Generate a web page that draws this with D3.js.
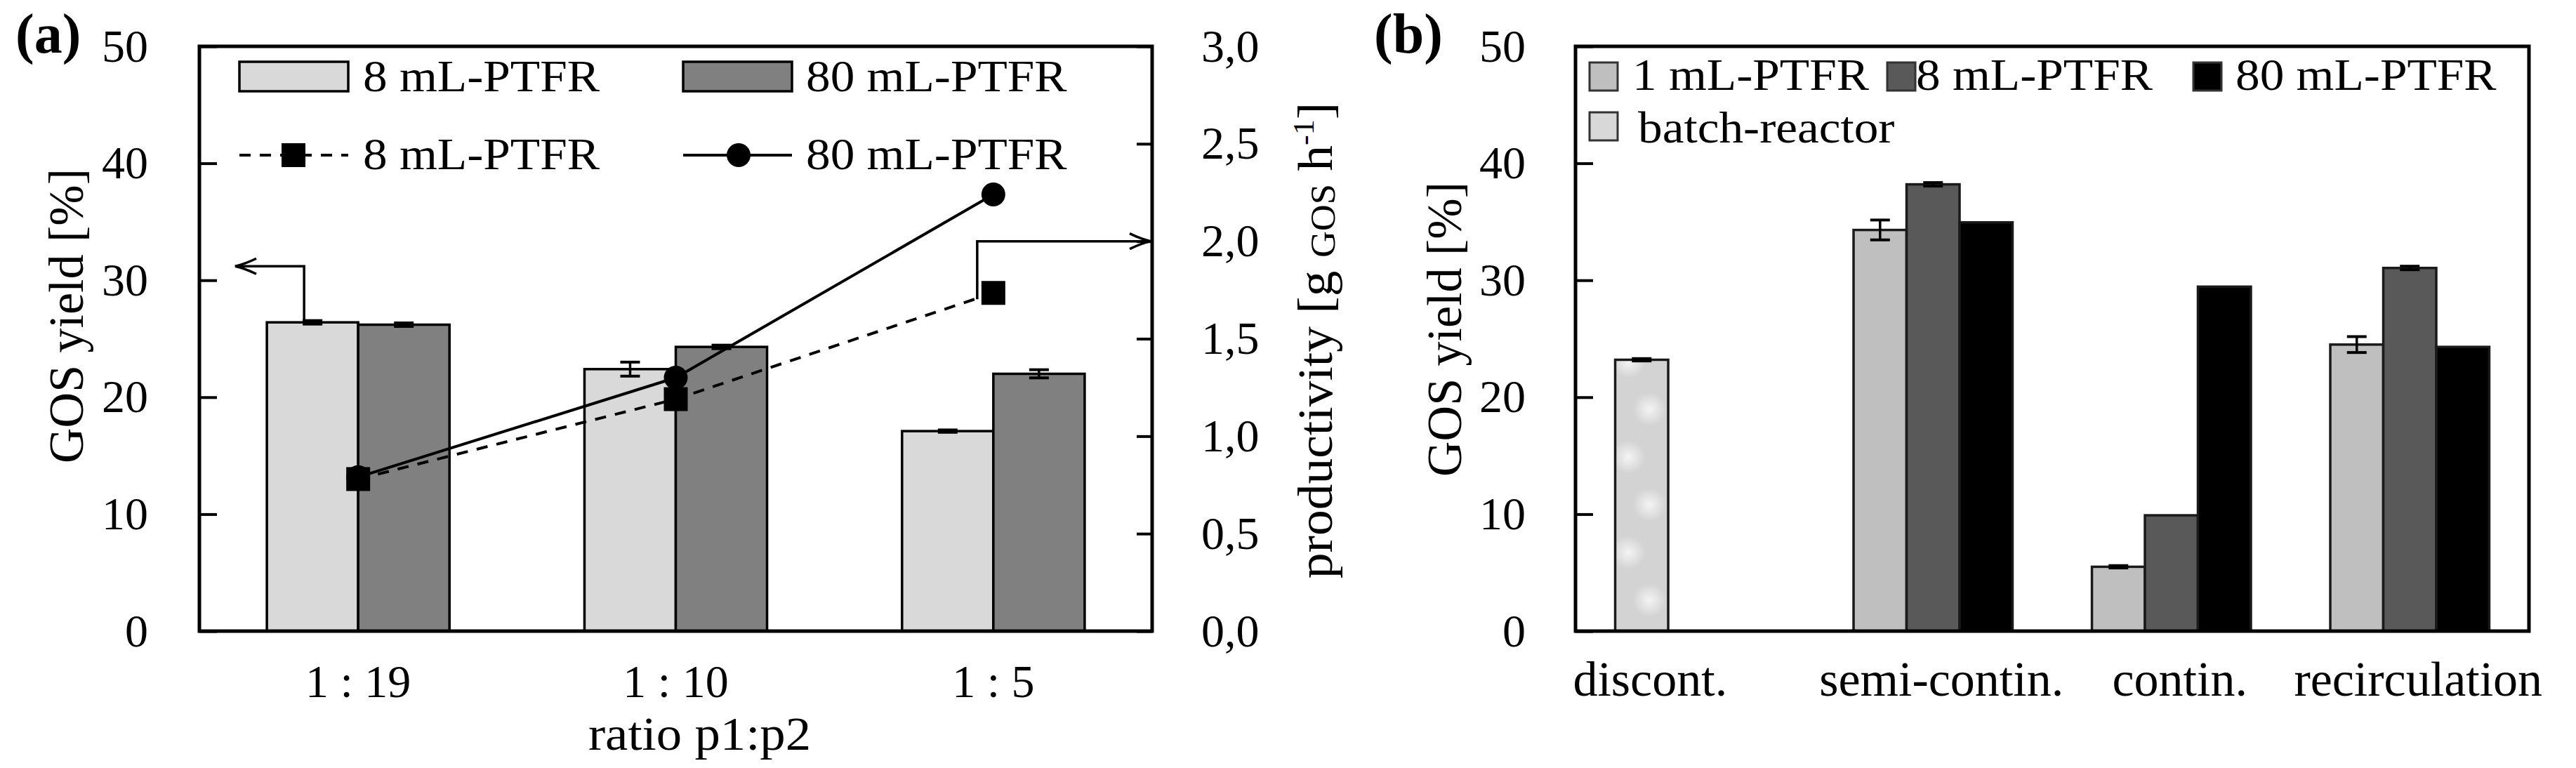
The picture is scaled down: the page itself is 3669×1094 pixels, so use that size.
<!DOCTYPE html>
<html>
<head>
<meta charset="utf-8">
<script src="https://cdn.jsdelivr.net/npm/d3@7"></script>
<style>
  html, body { margin: 0; padding: 0; background: #fff; }
</style>
</head>
<body>
<svg id="chart"></svg>
<script>
// ---- Data, panel (a) ----
var ratios = ["1 : 19", "1 : 10", "1 : 5"];
var seriesA = ["8 mL-PTFR", "80 mL-PTFR"];
var yield8 = [26.4, 22.4, 17.1];
var yield8Err = [0.15, 0.6, 0.1];
var yield80 = [26.2, 24.3, 22.0];
var yield80Err = [0.15, 0.15, 0.35];
var prod8 = [0.78, 1.19, 1.735];
var prod80 = [0.79, 1.30, 2.24];
var yieldTicks = [0, 10, 20, 30, 40, 50];
var prodTicks = [0, 0.5, 1.0, 1.5, 2.0, 2.5, 3.0];
// where the axis-pointer arrows turn
var arrowYield = 31.2;
var arrowProd = 2.0;

// ---- Data, panel (b) ----
var modes = ["discont.", "semi-contin.", "contin.", "recirculation"];
var seriesB = ["1 mL-PTFR", "8 mL-PTFR", "80 mL-PTFR"];
var batch = [23.2, null, null, null];
var batchErr = [0.1, null, null, null];
var ptfr1 = [null, 34.3, 5.5, 24.5];
var ptfr1Err = [null, 0.85, 0.1, 0.68];
var ptfr8 = [null, 38.2, 9.9, 31.05];
var ptfr8Err = [null, 0.15, 0, 0.15];
var ptfr80 = [null, 34.95, 29.45, 24.3];

// SVG size params
var width = 3669;
var height = 1094;
var FONT = '"Liberation Serif", "Times New Roman", serif';

var svg = d3.select("#chart")
    .attr("width", width)
    .attr("height", height)
    .attr("font-family", FONT);

var defs = svg.append("defs");

// Plot frames
var top0 = 66, bottom0 = 899;
var frameA = {x0: 284, x1: 1641};
var frameB = {x0: 2244, x1: 3602};

// Text helper: the figure's text is a bit wider than Times, so stretch it
function txt(parent, x, y, s, size, sx, anchor, rot) {
  return parent.append("text")
    .attr("transform", "translate(" + x + "," + y + ")" + (rot ? " rotate(-90)" : "") + " scale(" + sx + ",1)")
    .attr("font-size", size)
    .attr("text-anchor", anchor || "start")
    .attr("fill", "#000")
    .text(s);
}

// Comma decimal numbers for productivity axis
var deFormat = d3.formatLocale({decimal: ",", thousands: ".", grouping: [3], currency: ["", "€"]}).format(".1f");

function styleAxis(g, size) {
  g.attr("font-family", FONT).attr("font-size", size);
  g.select(".domain").remove();
  g.selectAll(".tick line").attr("stroke", "#000").attr("stroke-width", 4);
  g.selectAll(".tick text").attr("fill", "#000");
}

function errorBar(g, cx, y, err, scale) {
  if (err == null) return;
  var cap = 14;
  var yHi = scale(y + err), yLo = scale(y - err);
  g.append("line").attr("x1", cx).attr("x2", cx).attr("y1", yHi).attr("y2", yLo)
    .attr("stroke", "#000").attr("stroke-width", 3.5);
  [yHi, yLo].forEach(function(yy) {
    g.append("line").attr("x1", cx - cap).attr("x2", cx + cap).attr("y1", yy).attr("y2", yy)
      .attr("stroke", "#000").attr("stroke-width", 4);
  });
}

function arrowHead(g, tx, ty, dir) {
  // open barbed head, dir = -1 points left, +1 points right
  var b = 30 * -dir;
  g.append("path")
    .attr("d", "M" + (tx + b) + "," + (ty - 11) + " Q" + (tx + b * 0.45) + "," + (ty - 3) + " " + tx + "," + ty +
               " Q" + (tx + b * 0.45) + "," + (ty + 3) + " " + (tx + b) + "," + (ty + 11))
    .attr("fill", "none").attr("stroke", "#000").attr("stroke-width", 3.5);
}

// ===================== Panel (a) =====================
var gA = svg.append("g");

var xA = d3.scaleBand().domain(ratios)
    .range([frameA.x0, frameA.x1])
    .paddingInner(0.425).paddingOuter(0.2125);
var xSubA = d3.scaleBand().domain(seriesA).range([0, xA.bandwidth()]);
var yA = d3.scaleLinear().domain([0, 50]).range([bottom0, top0]);
var pA = d3.scaleLinear().domain([0, 3]).range([bottom0, top0]);

var colorA = d3.scaleOrdinal().domain(seriesA).range(["#d9d9d9", "#808080"]);

var barRows = ratios.map(function(r, i) {
  return [
    {cat: r, s: seriesA[0], v: yield8[i], e: yield8Err[i]},
    {cat: r, s: seriesA[1], v: yield80[i], e: yield80Err[i]}
  ];
});

var groupsA = gA.append("g").selectAll("g")
  .data(barRows)
  .enter().append("g");

groupsA.selectAll("rect")
  .data(function(d) { return d; })
  .enter().append("rect")
    .attr("x", function(d) { return xA(d.cat) + xSubA(d.s); })
    .attr("y", function(d) { return yA(d.v); })
    .attr("width", xSubA.bandwidth())
    .attr("height", function(d) { return yA(0) - yA(d.v); })
    .attr("fill", function(d) { return colorA(d.s); })
    .attr("stroke", "#000")
    .attr("stroke-width", 3.5);

barRows.forEach(function(row) {
  row.forEach(function(d) {
    errorBar(gA, xA(d.cat) + xSubA(d.s) + xSubA.bandwidth() / 2, d.v, d.e, yA);
  });
});

// Productivity lines
var cx = function(d, i) { return xA(ratios[i]) + xA.bandwidth() / 2; };
var lineP = d3.line().x(cx).y(function(d) { return pA(d); });

gA.append("path").datum(prod8)
  .attr("d", lineP).attr("fill", "none").attr("stroke", "#000")
  .attr("stroke-width", 4).attr("stroke-dasharray", "16,13");
gA.append("path").datum(prod80)
  .attr("d", lineP).attr("fill", "none").attr("stroke", "#000")
  .attr("stroke-width", 4);

gA.selectAll(".c80").data(prod80).enter().append("circle")
  .attr("class", "c80")
  .attr("cx", cx).attr("cy", function(d) { return pA(d); })
  .attr("r", 17).attr("fill", "#000");
gA.selectAll(".s8").data(prod8).enter().append("rect")
  .attr("class", "s8")
  .attr("x", function(d, i) { return cx(d, i) - 17; })
  .attr("y", function(d) { return pA(d) - 17; })
  .attr("width", 34).attr("height", 34).attr("fill", "#000");

// Arrows pointing to the axes
var ax1 = xA(ratios[0]) + xSubA(seriesA[0]) + xSubA.bandwidth() / 2 - 12;
gA.append("path")
  .attr("d", "M" + ax1 + "," + yA(yield8[0]) + " V" + yA(arrowYield) + " H" + (frameA.x0 + 51))
  .attr("fill", "none").attr("stroke", "#000").attr("stroke-width", 3.5);
arrowHead(gA, frameA.x0 + 51, yA(arrowYield), -1);

var ax2 = cx(null, 2) - 23;
gA.append("path")
  .attr("d", "M" + ax2 + "," + (pA(prod8[2]) + 9) + " V" + pA(arrowProd) + " H" + (frameA.x1 - 2))
  .attr("fill", "none").attr("stroke", "#000").attr("stroke-width", 3.5);
arrowHead(gA, frameA.x1 - 2, pA(arrowProd), 1);

// Frame
gA.append("rect")
  .attr("x", frameA.x0).attr("y", top0)
  .attr("width", frameA.x1 - frameA.x0).attr("height", bottom0 - top0)
  .attr("fill", "none").attr("stroke", "#000").attr("stroke-width", 5);

// Axes
var axLeftA = gA.append("g")
  .attr("transform", "translate(" + frameA.x0 + ",0)")
  .call(d3.axisLeft(yA).tickValues(yieldTicks).tickSize(-25).tickPadding(73));
styleAxis(axLeftA, 66);

var axRightA = gA.append("g")
  .attr("transform", "translate(" + frameA.x1 + ",0)")
  .call(d3.axisRight(pA).tickValues(prodTicks).tickSize(-22).tickPadding(70).tickFormat(deFormat));
styleAxis(axRightA, 66);

var axBottomA = gA.append("g")
  .attr("transform", "translate(0," + bottom0 + ")")
  .call(d3.axisBottom(xA).tickSize(0).tickPadding(47));
styleAxis(axBottomA, 66);

// Axis titles
txt(gA, (frameA.x0 + frameA.x1) / 2 + 34, 1068, "ratio p1:p2", 68, 1.07, "middle");
txt(gA, 118, 450, "GOS yield [%]", 70, 1, "middle", true);

var rt = gA.append("text")
  .attr("transform", "translate(1897,485) rotate(-90) scale(1.05,1)")
  .attr("font-size", 70).attr("text-anchor", "middle");
rt.append("tspan").text("productivity [g ");
rt.append("tspan").attr("font-size", 50).attr("dy", 4).text("GOS");
rt.append("tspan").attr("dy", -4).text(" h");
rt.append("tspan").attr("font-size", 42).attr("dy", -26).text("-1");
rt.append("tspan").attr("dy", 26).text("]");

txt(gA, 22, 75, "(a)", 80, 1, "start").attr("font-weight", "bold");

// Legend (a)
var legA = gA.append("g");
[[341, 517], [973, 1148]].forEach(function(p, i) {
  legA.append("rect").attr("x", p[0]).attr("y", 88).attr("width", 155).attr("height", 42)
    .attr("fill", colorA(seriesA[i])).attr("stroke", "#000").attr("stroke-width", 3.5);
  txt(legA, p[1], 130, seriesA[i], 63, 1.1);
  legA.append("line").attr("x1", p[0]).attr("x2", p[0] + 155).attr("y1", 221).attr("y2", 221)
    .attr("stroke", "#000").attr("stroke-width", 4)
    .attr("stroke-dasharray", i === 0 ? "16,13" : null);
  if (i === 0) {
    legA.append("rect").attr("x", p[0] + 77 - 17).attr("y", 221 - 17)
      .attr("width", 34).attr("height", 34).attr("fill", "#000");
  } else {
    legA.append("circle").attr("cx", p[0] + 79).attr("cy", 221).attr("r", 17).attr("fill", "#000");
  }
  txt(legA, p[1], 241, seriesA[i], 63, 1.1);
});

// ===================== Panel (b) =====================
var gB = svg.append("g");

var xB = d3.scaleBand().domain(modes)
    .range([frameB.x0, frameB.x1])
    .paddingInner(0.333).paddingOuter(0.1665);
var xSubB = d3.scaleBand().domain(seriesB).range([0, xB.bandwidth()]);
var yB = d3.scaleLinear().domain([0, 50]).range([bottom0, top0]);

var colorB = d3.scaleOrdinal().domain(seriesB).range(["#bfbfbf", "#595959", "#000000"]);

// Batch texture: light grey with soft white spots
var spot = defs.append("radialGradient").attr("id", "spot");
spot.append("stop").attr("offset", "0%").attr("stop-color", "#ffffff").attr("stop-opacity", 0.75);
spot.append("stop").attr("offset", "100%").attr("stop-color", "#ffffff").attr("stop-opacity", 0);
var bx = xB(modes[0]) + xSubB(seriesB[0]);
var pat = defs.append("pattern").attr("id", "batchTex")
  .attr("patternUnits", "userSpaceOnUse")
  .attr("x", bx).attr("y", 583 - 68).attr("width", xSubB.bandwidth()).attr("height", 136);
pat.append("rect").attr("width", xSubB.bandwidth()).attr("height", 136).attr("fill", "#d3d3d3");
pat.append("circle").attr("cx", 49).attr("cy", 68).attr("r", 24).attr("fill", "url(#spot)");
pat.append("circle").attr("cx", 19).attr("cy", 0).attr("r", 24).attr("fill", "url(#spot)");
pat.append("circle").attr("cx", 19).attr("cy", 136).attr("r", 24).attr("fill", "url(#spot)");

var rowsB = [];
modes.forEach(function(m, i) {
  if (batch[i] != null) rowsB.push({cat: m, s: seriesB[0], v: batch[i], e: batchErr[i], fill: "url(#batchTex)"});
  [ptfr1, ptfr8, ptfr80].forEach(function(arr, j) {
    if (arr[i] == null) return;
    var errs = [ptfr1Err, ptfr8Err, null][j];
    rowsB.push({cat: m, s: seriesB[j], v: arr[i], e: errs ? errs[i] : null, fill: colorB(seriesB[j])});
  });
});

gB.selectAll(".barB").data(rowsB).enter().append("rect")
  .attr("class", "barB")
  .attr("x", function(d) { return xB(d.cat) + xSubB(d.s); })
  .attr("y", function(d) { return yB(d.v); })
  .attr("width", xSubB.bandwidth())
  .attr("height", function(d) { return yB(0) - yB(d.v); })
  .attr("fill", function(d) { return d.fill; })
  .attr("stroke", "#1a1a1a")
  .attr("stroke-width", 3.5);

rowsB.forEach(function(d) {
  if (d.e) errorBar(gB, xB(d.cat) + xSubB(d.s) + xSubB.bandwidth() / 2, d.v, d.e, yB);
});

gB.append("rect")
  .attr("x", frameB.x0).attr("y", top0)
  .attr("width", frameB.x1 - frameB.x0).attr("height", bottom0 - top0)
  .attr("fill", "none").attr("stroke", "#000").attr("stroke-width", 5);

var axLeftB = gB.append("g")
  .attr("transform", "translate(" + frameB.x0 + ",0)")
  .call(d3.axisLeft(yB).tickValues(yieldTicks).tickSize(-25).tickPadding(71));
styleAxis(axLeftB, 66);

var axBottomB = gB.append("g")
  .attr("transform", "translate(0," + bottom0 + ")")
  .call(d3.axisBottom(xB).tickSize(0).tickPadding(42));
styleAxis(axBottomB, 70);
// centre each label over the bars that are actually drawn
axBottomB.selectAll(".tick text").attr("dx", function(m) {
  var xs = rowsB.filter(function(d) { return d.cat === m; })
    .map(function(d) { return xSubB(d.s) + xSubB.bandwidth() / 2; });
  return d3.mean(xs) - xB.bandwidth() / 2 + 12;
});

txt(gB, 2081, 469, "GOS yield [%]", 70, 1, "middle", true);
txt(gB, 1957, 75, "(b)", 80, 1, "start").attr("font-weight", "bold");

// Legend (b)
var legB = gB.append("g");
var legItems = [
  {x: 2264, tx: 2325, y: 89, by: 128, name: seriesB[0], fill: colorB(seriesB[0])},
  {x: 2688, tx: 2729, y: 89, by: 128, name: seriesB[1], fill: colorB(seriesB[1])},
  {x: 3124, tx: 3184, y: 89, by: 128, name: seriesB[2], fill: colorB(seriesB[2])},
  {x: 2264, tx: 2333, y: 160, by: 203, name: "batch-reactor", fill: "#d8d8d8"}
];
legItems.forEach(function(it) {
  legB.append("rect").attr("x", it.x).attr("y", it.y).attr("width", 40).attr("height", 40)
    .attr("fill", it.fill).attr("stroke", "#333").attr("stroke-width", 3);
  txt(legB, it.tx, it.by, it.name, 63, 1.1);
});
</script>
</body>
</html>
